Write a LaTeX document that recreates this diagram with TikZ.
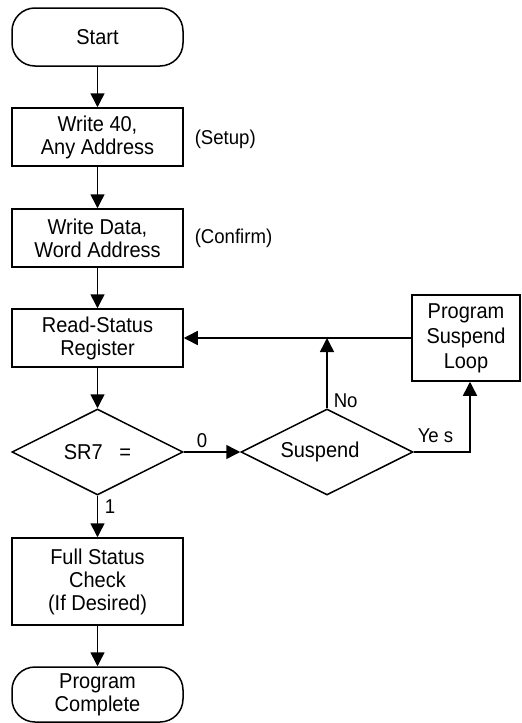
\documentclass[tikz,border=0pt]{standalone}
\usepackage{fontspec}
\setmainfont{Liberation Sans}[FakeStretch=0.93]
\usetikzlibrary{shapes.geometric,arrows.meta,calc}
\begin{document}
\begin{tikzpicture}[x=1pt,y=-1pt,
  line width=1.5pt,
  base/.style={draw, line width=1.5pt, inner sep=0pt, align=center,
     font=\fontsize{21.5}{23}\selectfont},
  term/.style={base, rectangle, rounded corners=23pt, minimum width=171pt},
  procbox/.style={base, rectangle, minimum width=171pt},
  decision/.style={base, diamond, aspect=2, minimum width=171pt, minimum height=86pt},
  lbl/.style={font=\fontsize{20}{22}\selectfont, inner sep=0pt},
  arr/.style={-{Triangle[length=14pt,width=14pt]}}
]
\useasboundingbox (0,0) rectangle (522,723);

\node[term, minimum height=58pt] (start) at (97.5,37) {Start};
\node[procbox, minimum height=58pt] (w40) at (97.5,137) {Write 40,\\Any Address};
\node[lbl, anchor=west] (setup) at (194,139) {(Setup)};
\node[procbox, minimum height=58pt] (wd) at (97.5,238) {Write Data,\\Word Address};
\node[lbl, anchor=west] (confirm) at (194,238) {(Confirm)};
\node[procbox, minimum height=58pt] (rs) at (97.5,338) {Read-Status\\Register};
\node[procbox, minimum width=108pt, minimum height=86pt, font=\fontsize{21.5}{25}\selectfont] (psl) at (466,338) {Program\\Suspend\\Loop};
\node[decision] (sr7) at (97.5,452) {SR7\ \ \ =};
\node[decision, minimum width=172pt] (susp) at (327,452) {Suspend\hspace*{14pt}};
\node[procbox, minimum height=87pt] (fsc) at (97.5,581.5) {Full Status\\Check\\(If Desired)};
\node[term, minimum height=55pt] (pc) at (97.5,694.5) {Program\\Complete};

\coordinate (j) at (susp.north |- psl.west);
\coordinate (yesc) at ([xshift=4pt]psl.south);

\draw[arr] (start) -- (w40);
\draw[arr] (w40) -- (wd);
\draw[arr] (wd) -- (rs);
\draw[arr] (rs) -- (sr7);
\draw[arr] (sr7.east) -- (susp.west);
\draw[arr] (susp.north) -- (j);
\draw[arr] (psl.west) -- (rs.east);
\draw[arr] (susp.east) -| (yesc);
\draw[arr] (sr7.south) -- (fsc.north);
\draw[arr] (fsc) -- (pc);

\node[lbl, anchor=west] (l0) at (196,441) {0};
\node[lbl, anchor=west] (l1) at (104,507) {1};
\node[lbl, anchor=west] (lno) at (333,401) {No};
\node[lbl, anchor=west] (lyes) at (417,436) {Ye s};
\end{tikzpicture}
\end{document}
